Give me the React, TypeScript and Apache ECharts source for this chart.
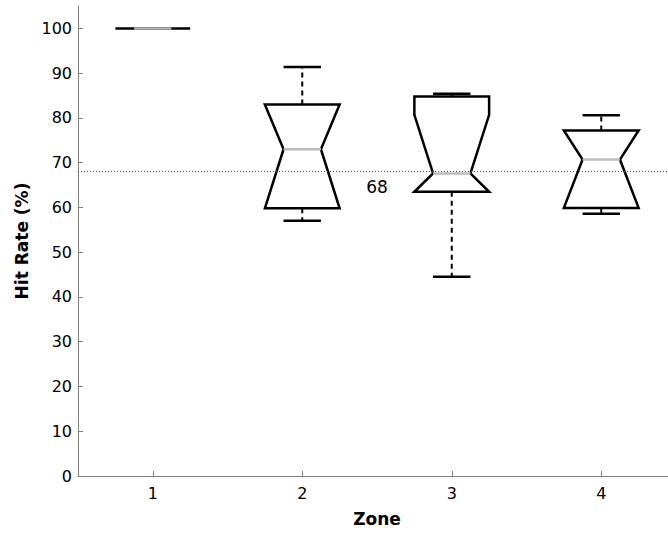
import React, { useEffect, useRef } from "react";
import * as echarts from "echarts";

const zones = [1, 2, 3, 4];
const lowerWhisker = [100, 57.0, 44.5, 58.6];
const q1 = [100, 59.8, 63.5, 59.9];
const notchLow = [100, 59.8, 63.5, 59.9];
const median = [100, 73.0, 67.6, 70.7];
const notchHigh = [100, 83.0, 80.7, 77.2];
const q3 = [100, 83.0, 84.8, 77.2];
const upperWhisker = [100, 91.4, 85.4, 80.6];
const referenceValue = 68;
const yTicks = [0, 10, 20, 30, 40, 50, 60, 70, 80, 90, 100];
const xTicks = [1, 2, 3, 4];

const FONT = "DejaVu Sans";

export default function App() {
  const ref = useRef<HTMLDivElement>(null);
  useEffect(() => {
    if (!ref.current) return;
    const chart = echarts.init(ref.current, undefined, { renderer: "svg" });
    const data = zones.map((z, i) => [
      z,
      lowerWhisker[i],
      q1[i],
      notchLow[i],
      median[i],
      notchHigh[i],
      q3[i],
      upperWhisker[i],
    ]);
    const renderItem = (params: any, api: any) => {
      const x = api.value(0);
      const lo = api.value(1);
      const bq1 = api.value(2);
      const nLo = api.value(3);
      const med = api.value(4);
      const nHi = api.value(5);
      const bq3 = api.value(6);
      const hi = api.value(7);
      const bw = 0.25;
      const nw = 0.125;
      const c = (xv: number, yv: number) => api.coord([xv, yv]);
      const a = Math.max(bq1, nLo);
      const b = Math.min(bq3, nHi);
      const poly = [
        c(x - bw, bq1),
        c(x - bw, a),
        c(x - nw, med),
        c(x - bw, b),
        c(x - bw, bq3),
        c(x + bw, bq3),
        c(x + bw, b),
        c(x + nw, med),
        c(x + bw, a),
        c(x + bw, bq1),
      ];
      const black = "#000";
      const seg = (x1: number, y1: number, x2: number, y2: number, style: any) => {
        const p1 = c(x1, y1);
        const p2 = c(x2, y2);
        return { type: "line", shape: { x1: p1[0], y1: p1[1], x2: p2[0], y2: p2[1] }, style };
      };
      const children: any[] = [
        {
          type: "polygon",
          shape: { points: poly },
          style: { fill: "#fff", stroke: black, lineWidth: 2.5, lineJoin: "miter" },
        },
        seg(x, bq3, x, hi, { stroke: black, lineWidth: 2, lineDash: [5, 4] }),
        seg(x, bq1, x, lo, { stroke: black, lineWidth: 2, lineDash: [5, 4] }),
        seg(x - nw, hi, x + nw, hi, { stroke: black, lineWidth: 2.5 }),
        seg(x - nw, lo, x + nw, lo, { stroke: black, lineWidth: 2.5 }),
        seg(x - nw, med, x + nw, med, { stroke: "#bdbdbd", lineWidth: 2.5 }),
      ];
      return { type: "group", children };
    };
    chart.setOption({
      animation: false,
      backgroundColor: "#fff",
      textStyle: { fontFamily: FONT },
      grid: { left: 78, right: 0, top: 6, bottom: 58, containLabel: false },
      xAxis: {
        type: "value",
        min: 0.5,
        max: 4.5,
        name: "Zone",
        nameLocation: "middle",
        nameGap: 34,
        nameTextStyle: { fontFamily: FONT, fontSize: 17, fontWeight: "bold", color: "#000" },
        splitLine: { show: false },
        axisLine: { lineStyle: { color: "#808080", width: 1 } },
        axisTick: { inside: true, length: 5, customValues: xTicks, lineStyle: { color: "#808080" } },
        axisLabel: { customValues: xTicks, color: "#000", fontSize: 16, fontFamily: FONT, margin: 9 },
      },
      yAxis: {
        type: "value",
        min: 0,
        max: 105,
        name: "Hit Rate (%)",
        nameLocation: "middle",
        nameGap: 45,
        nameTextStyle: { fontFamily: FONT, fontSize: 17, fontWeight: "bold", color: "#000" },
        splitLine: { show: false },
        axisLine: { show: true, lineStyle: { color: "#808080", width: 1 } },
        axisTick: { show: true, inside: true, length: 5, customValues: yTicks, lineStyle: { color: "#808080" } },
        axisLabel: { customValues: yTicks, color: "#000", fontSize: 16, fontFamily: FONT, margin: 6 },
      },
      series: [
        {
          type: "custom",
          renderItem,
          data,
          encode: { x: 0, y: [1, 2, 3, 4, 5, 6, 7] },
          markLine: {
            silent: true,
            symbol: ["none", "none"],
            data: [{ yAxis: referenceValue }],
            lineStyle: { type: [1, 2], color: "#555", width: 1 },
            label: {
              show: true,
              position: "insideMiddleBottom",
              formatter: String(referenceValue),
              color: "#000",
              fontSize: 17,
              fontFamily: FONT,
              distance: 7,
            },
          },
        },
      ],
    });
    return () => chart.dispose();
  }, []);
  return (
    <div
      ref={ref}
      style={{ position: "fixed", left: 0, top: 0, width: 676, height: 534 }}
    />
  );
}
